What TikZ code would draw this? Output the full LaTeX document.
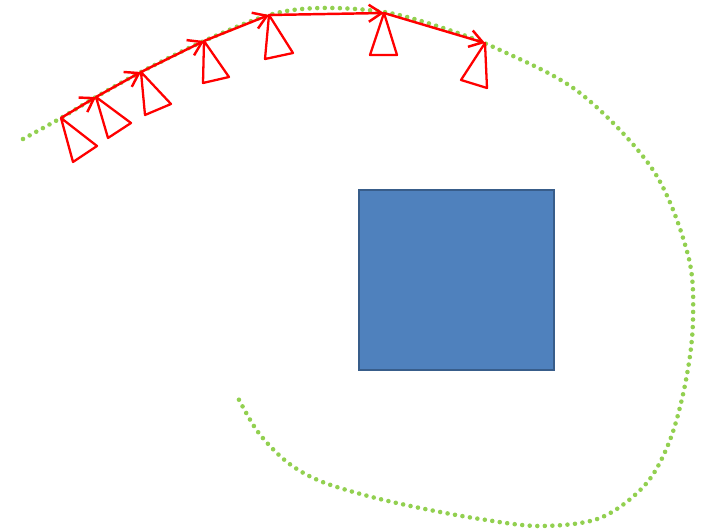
\documentclass[tikz,border=0pt]{standalone}
\usepackage{xcolor}
\usetikzlibrary{arrows.meta}
\definecolor{pathgreen}{HTML}{92D050}
\definecolor{boxblue}{HTML}{4F81BD}
\definecolor{boxedge}{HTML}{385D8A}
\begin{document}
\begin{tikzpicture}[x=0.02cm, y=-0.02cm,
		trajectory/.style={draw=pathgreen, line width=2.6pt, line cap=round,
			dash pattern=on 0pt off 4.3pt},
		obstacle/.style={draw=boxedge, fill=boxblue, line width=1.4pt,
			minimum width=3.9cm, minimum height=3.6cm, inner sep=0pt},
		cam/.style={draw=red, line width=1.3pt, line join=round},
		move/.style={-{Straight Barb[length=2.6mm, width=3.4mm]}, draw=red, line width=1.4pt},
		]
		\useasboundingbox (0,0) rectangle (704,530);
		
		% planned path around the object
		\draw[trajectory] plot[smooth, tension=0.55] coordinates {
			(23,139) (61,118) (96,97) (141,72) (204,41) (269,15) (320,8) (384,12)
			(440,27) (500,50) (580,93) (653,170) (688,255) (693,320) (686,380)
			(670,440) (645,485) (600,518) (540,526) (480,519) (420,508) (368,496)
			(320,481) (287,462) (258,432) (237,396)};
		
		\node[obstacle] (box) at (456.5,280) {};
		
		% camera poses
		\coordinate (c1) at (61,118);
		\coordinate (c2) at (96,97);
		\coordinate (c3) at (141,72);
		\coordinate (c4) at (204,41);
		\coordinate (c5) at (269,15);
		\coordinate (c6) at (384,13);
		\coordinate (c7) at (485,43);
		
		\draw[cam] (c1) -- ++(12,44) -- ++(24,-16) -- cycle;
		\draw[cam] (c2) -- ++(12,41) -- ++(23,-15) -- cycle;
		\draw[cam] (c3) -- ++(4,43) -- ++(26,-11) -- cycle;
		\draw[cam] (c4) -- ++(-1,42) -- ++(26,-6) -- cycle;
		\draw[cam] (c5) -- ++(-4,44) -- ++(28,-6) -- cycle;
		\draw[cam] (c6) -- ++(-14,42) -- ++(27,0) -- cycle;
		\draw[cam] (c7) -- ++(-24,37) -- ++(26,8) -- cycle;
		
		\draw[move] (c1) -- (c2);
		\draw[move] (c2) -- (c3);
		\draw[move] (c3) -- (c4);
		\draw[move] (c4) -- (c5);
		\draw[move] (c5) -- (c6);
		\draw[move] (c6) -- (c7);
		
	\end{tikzpicture}
\end{document}
